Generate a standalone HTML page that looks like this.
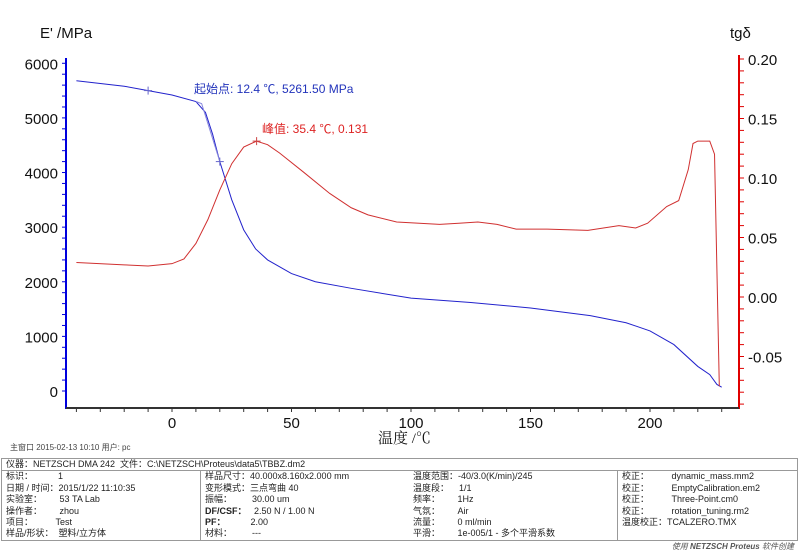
<!DOCTYPE html>
<html><head><meta charset="utf-8">
<style>
body{margin:0;background:#fff;width:800px;height:548px;overflow:hidden;font-family:"Liberation Sans","Noto Sans CJK SC",sans-serif;}
#info{position:absolute;left:0;top:458px;width:800px;font-size:9px;color:#222;}
table{border-collapse:collapse;width:797px;margin-left:1px;}
td{padding:0 4px;line-height:11.4px;white-space:nowrap;}
.box{border:1px solid #999;}
</style></head><body>
<svg id="chart" width="800" height="458" style="position:absolute;left:0;top:0"></svg>
<div id="info">
<table>
<tr><td colspan="4" class="box" style="border-bottom:none">仪器：NETZSCH DMA 242 &nbsp;文件：C:\NETZSCH\Proteus\data5\TBBZ.dm2</td></tr>
</table>
<table style="border:1px solid #999">
<tr><td style="width:190px">标识： &nbsp; &nbsp; &nbsp; &nbsp; &nbsp;1</td><td style="border-left:1px solid #999;width:200px">样品尺寸：40.000x8.160x2.000 mm</td><td style="width:200px">温度范围：-40/3.0(K/min)/245</td><td style="border-left:1px solid #999">校正： &nbsp; &nbsp; &nbsp; &nbsp; dynamic_mass.mm2</td></tr>
<tr><td>日期 / 时间：2015/1/22 11:10:35</td><td style="border-left:1px solid #999">变形模式：三点弯曲 40</td><td>温度段： &nbsp; &nbsp;1/1</td><td style="border-left:1px solid #999">校正： &nbsp; &nbsp; &nbsp; &nbsp; EmptyCalibration.em2</td></tr>
<tr><td>实验室： &nbsp; &nbsp; &nbsp; 53 TA Lab</td><td style="border-left:1px solid #999">振幅： &nbsp; &nbsp; &nbsp; &nbsp;30.00 um</td><td>频率： &nbsp; &nbsp; &nbsp; 1Hz</td><td style="border-left:1px solid #999">校正： &nbsp; &nbsp; &nbsp; &nbsp; Three-Point.cm0</td></tr>
<tr><td>操作者： &nbsp; &nbsp; &nbsp; zhou</td><td style="border-left:1px solid #999"><b>DF/CSF：</b> &nbsp; 2.50 N / 1.00 N</td><td>气氛： &nbsp; &nbsp; &nbsp; Air</td><td style="border-left:1px solid #999">校正： &nbsp; &nbsp; &nbsp; &nbsp; rotation_tuning.rm2</td></tr>
<tr><td>项目： &nbsp; &nbsp; &nbsp; &nbsp; Test</td><td style="border-left:1px solid #999"><b>PF：</b> &nbsp; &nbsp; &nbsp; &nbsp; &nbsp;2.00</td><td>流量： &nbsp; &nbsp; &nbsp; 0 ml/min</td><td style="border-left:1px solid #999">温度校正：TCALZERO.TMX</td></tr>
<tr><td>样品/形状： &nbsp;塑料/立方体</td><td style="border-left:1px solid #999">材料： &nbsp; &nbsp; &nbsp; &nbsp;---</td><td>平滑： &nbsp; &nbsp; &nbsp; 1e-005/1 - 多个平滑系数</td><td style="border-left:1px solid #999"></td></tr>
</table>
<div style="text-align:right;font-style:italic;font-size:8px;color:#555;padding-right:6px">使用 <b>NETZSCH Proteus</b> 软件创建</div>
</div>
<script>
const eTemps=[-40,-20,-10,0,10,14,17,20,25,30,35,40,50,60,75,100,125,150,175,190,200,210,220,225,228,230];
const eValues=[5680,5580,5500,5420,5300,5100,4700,4200,3500,2950,2600,2400,2150,2000,1880,1700,1620,1520,1380,1250,1100,850,450,300,120,70];
const tTemps=[-40,-20,-10,0,5,10,15,20,25,30,35.4,40,45,55,66,75,82,94,112,120,128,136,144,157,174,187,194,199,207,212,216,218,220,225,227,229];
const tValues=[0.029,0.027,0.026,0.028,0.032,0.045,0.065,0.09,0.112,0.126,0.131,0.128,0.121,0.105,0.087,0.075,0.069,0.063,0.061,0.062,0.063,0.061,0.057,0.057,0.056,0.060,0.058,0.062,0.076,0.081,0.107,0.129,0.131,0.131,0.120,-0.075];
const xTicks=[0,50,100,150,200];
const eTicks=[0,1000,2000,3000,4000,5000,6000];
const tTicks=[-0.05,0.00,0.05,0.10,0.15,0.20];
const X=t=>172+t*2.39;
const YE=v=>391-v*0.05462;
const YT=v=>297-v*1190;
const svg=document.getElementById('chart');
const NS='http://www.w3.org/2000/svg';
function mk(tag,a,txt){const e=document.createElementNS(NS,tag);for(const k in a)e.setAttribute(k,a[k]);if(txt!==undefined)e.textContent=txt;svg.appendChild(e);return e;}
let e;
e=mk('line',{x1:66,y1:58,x2:66,y2:409,stroke:'#0000dd','stroke-width':2});


e=mk('line',{x1:739,y1:55,x2:739,y2:409,stroke:'#e00000','stroke-width':2});


e=mk('line',{x1:66,y1:408,x2:739,y2:408,stroke:'#333','stroke-width':2});


for(let v=0;v<=6000;v+=200){mk('line',{x1:62,x2:66,y1:YE(v),y2:YE(v),stroke:'#0000dd'});}
for(let v=-0.09;v<=0.2001;v+=0.01){mk('line',{x1:739,x2:744,y1:YT(v),y2:YT(v),stroke:'#e00000'});}
for(let t=-40;t<=230;t+=10){mk('line',{x1:X(t),x2:X(t),y1:408,y2:412,stroke:'#333'});}
eTicks.forEach(v=>{e=mk('text',{x:58,y:YE(v)+6,'text-anchor':'end','font-size':15,fill:'#111'},String(v));

});
tTicks.forEach(v=>{e=mk('text',{x:748,y:YT(v)+6,'font-size':15,fill:'#111'},v.toFixed(2));

});
xTicks.forEach(v=>{e=mk('text',{x:X(v),y:428,'text-anchor':'middle','font-size':15,fill:'#111'},String(v));

});
e=mk('text',{x:40,y:38,'font-size':15,fill:'#111'},"E' /MPa");


e=mk('text',{x:730,y:38,'font-size':15,fill:'#111'},"tgδ");


e=mk('text',{x:378,y:443,'font-size':15,fill:'#111','font-family':'"Liberation Serif","Noto Serif CJK SC",serif'},"温度 /℃");


e=mk('text',{x:10,y:450,'font-size':8,fill:'#444'},"主窗口   2015-02-13 10:10   用户: pc");


e=mk('polyline',{points:eTemps.map((t,i)=>X(t)+','+YE(eValues[i])).join(' '),fill:'none',stroke:'#2222cc','stroke-width':1});


e=mk('polyline',{points:tTemps.map((t,i)=>X(t)+','+YT(tValues[i])).join(' '),fill:'none',stroke:'#d03030','stroke-width':1});


mk('polyline',{points:X(10)+','+YE(5300)+' '+X(12.4)+','+YE(5261)+' '+X(20)+','+YE(4200),fill:'none',stroke:'#8888dd','stroke-width':1});
[[-10,5500],[20,4200]].forEach(p=>{mk('line',{x1:X(p[0])-4,x2:X(p[0])+4,y1:YE(p[1]),y2:YE(p[1]),stroke:'#6666cc'});mk('line',{x1:X(p[0]),x2:X(p[0]),y1:YE(p[1])-4,y2:YE(p[1])+4,stroke:'#6666cc'});});
mk('line',{x1:X(35.4)-4,x2:X(35.4)+4,y1:YT(0.131),y2:YT(0.131),stroke:'#cc4444'});
mk('line',{x1:X(35.4),x2:X(35.4),y1:YT(0.131)-4,y2:YT(0.131)+4,stroke:'#cc4444'});
e=mk('text',{x:194,y:93,'font-size':12,fill:'#2233bb'},"起始点: 12.4 ℃, 5261.50 MPa");


e=mk('text',{x:262,y:133,'font-size':12,fill:'#dd2222'},"峰值: 35.4 ℃, 0.131");


</script>
</body></html>
